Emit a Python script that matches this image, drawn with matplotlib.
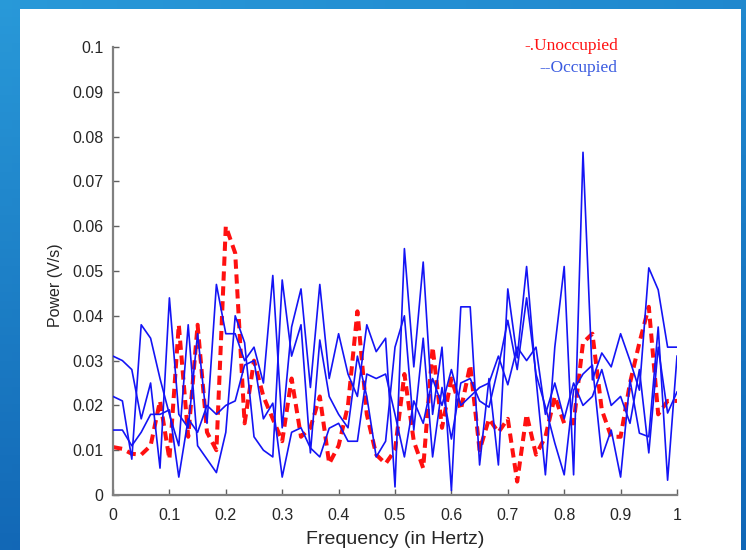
import numpy as np
import matplotlib
matplotlib.use("Agg")
import matplotlib.pyplot as plt
from matplotlib.patches import Rectangle

# ---------------- data ----------------
n_points = 61
freq = np.linspace(0.0, 1.0, n_points)

unoccupied = [0.0107, 0.0103, 0.0092, 0.0090, 0.011, 0.021, 0.008, 0.038, 0.013, 0.038,
              0.014, 0.010, 0.060, 0.054, 0.016, 0.030, 0.022, 0.017, 0.012, 0.026,
              0.013, 0.015, 0.022, 0.007, 0.011, 0.020, 0.041, 0.018, 0.009, 0.007,
              0.010, 0.027, 0.012, 0.006, 0.033, 0.015, 0.026, 0.019, 0.029, 0.010,
              0.017, 0.014, 0.017, 0.003, 0.018, 0.009, 0.013, 0.022, 0.016, 0.016,
              0.034, 0.036, 0.019, 0.013, 0.013, 0.025, 0.034, 0.042, 0.018, 0.021, 0.021]

occupied_1 = [0.031, 0.030, 0.028, 0.017, 0.025, 0.006, 0.044, 0.018, 0.015, 0.036,
              0.016, 0.047, 0.036, 0.036, 0.030, 0.033, 0.025, 0.049, 0.015, 0.0375,
              0.046, 0.024, 0.047, 0.026, 0.036, 0.027, 0.022, 0.038, 0.032, 0.035,
              0.0018, 0.055, 0.0286, 0.052, 0.018, 0.033, 0.001, 0.042, 0.042, 0.0067,
              0.026, 0.0067, 0.046, 0.0306, 0.051, 0.026, 0.0045, 0.033, 0.051, 0.0045,
              0.0765, 0.0257, 0.0317, 0.0286, 0.036, 0.030, 0.0234, 0.0507, 0.0458, 0.033, 0.033]

occupied_2 = [0.022, 0.021, 0.008, 0.038, 0.035, 0.026, 0.018, 0.011, 0.038, 0.011,
              0.008, 0.005, 0.014, 0.040, 0.034, 0.013, 0.010, 0.0085, 0.048, 0.031,
              0.038, 0.0094, 0.0346, 0.022, 0.018, 0.015, 0.031, 0.022, 0.0085, 0.012,
              0.033, 0.040, 0.0145, 0.035, 0.0085, 0.024, 0.0125, 0.025, 0.026, 0.021,
              0.0196, 0.0286, 0.039, 0.028, 0.044, 0.027, 0.0197, 0.0116, 0.0045, 0.0234,
              0.027, 0.029, 0.0085, 0.0145, 0.004, 0.0257, 0.0138, 0.013, 0.0375, 0.0033, 0.031]

occupied_3 = [0.0145, 0.0145, 0.011, 0.014, 0.018, 0.018, 0.019, 0.004, 0.017, 0.014,
              0.020, 0.018, 0.020, 0.021, 0.029, 0.030, 0.017, 0.0205, 0.004, 0.014,
              0.015, 0.0105, 0.0085, 0.0149, 0.016, 0.012, 0.012, 0.027, 0.026, 0.027,
              0.018, 0.0085, 0.021, 0.016, 0.026, 0.020, 0.028, 0.020, 0.022, 0.024,
              0.025, 0.031, 0.0246, 0.033, 0.030, 0.033, 0.018, 0.025, 0.017, 0.025,
              0.020, 0.022, 0.028, 0.020, 0.022, 0.016, 0.028, 0.0094, 0.033, 0.0183, 0.023]

occupied = [occupied_1, occupied_2, occupied_3]

x_ticks = [0, 0.1, 0.2, 0.3, 0.4, 0.5, 0.6, 0.7, 0.8, 0.9, 1]
x_tick_labels = ["0", "0.1", "0.2", "0.3", "0.4", "0.5", "0.6", "0.7", "0.8", "0.9", "1"]
y_ticks = [0, 0.01, 0.02, 0.03, 0.04, 0.05, 0.06, 0.07, 0.08, 0.09, 0.1]
y_tick_labels = ["0", "0.01", "0.02", "0.03", "0.04", "0.05", "0.06", "0.07", "0.08", "0.09", "0.1"]

# ---------------- figure ----------------
W, H = 746, 550
fig = plt.figure(figsize=(W / 100, H / 100), dpi=100)
fig.patch.set_facecolor("#1B86CA")

# blue desktop-like backdrop
bg = fig.add_axes([0, 0, 1, 1], zorder=-5)
gy = np.linspace(0, 1, 64)[:, None]
gx = np.linspace(0, 1, 64)[None, :]
c_top = np.array([0.16, 0.60, 0.85])
c_bot = np.array([0.05, 0.36, 0.68])
c_right = np.array([0.10, 0.50, 0.80])
t = (gy * 0.8 + gx * 0.2)
img = c_top[None, None, :] * (1 - t[..., None]) + c_bot[None, None, :] * t[..., None]
img = img * (1 - 0.3 * gx[..., None]) + c_right[None, None, :] * 0.3 * gx[..., None]
bg.imshow(img, aspect="auto", extent=[0, 1, 0, 1], origin="upper")
bg.set_axis_off()

fig.patches.append(Rectangle((20 / W, 0), (741 - 20) / W, (H - 9) / H,
                             transform=fig.transFigure, facecolor="white",
                             edgecolor="none", zorder=-4))

ax = fig.add_axes([113 / W, (H - 495) / H, (677 - 113) / W, (495 - 47) / H])
ax.set_facecolor("white")

sans = ["Liberation Sans", "DejaVu Sans"]

ax.plot(freq, unoccupied, color="#FF1010", lw=2.9, linestyle=(0, (2.3, 1.4)),
        solid_capstyle="butt", dash_capstyle="butt", zorder=2)
for series in occupied:
    ax.plot(freq, series, color="#1414F5", lw=1.2, zorder=3)

ax.set_xlim(0, 1)
ax.set_ylim(0, 0.1)
ax.set_xticks(x_ticks)
ax.set_xticklabels(x_tick_labels)
ax.set_yticks(y_ticks)
ax.set_yticklabels(y_tick_labels)

for side in ["top", "right"]:
    ax.spines[side].set_visible(False)
for side in ["left", "bottom"]:
    ax.spines[side].set_color("#808080")
    ax.spines[side].set_linewidth(1.6)

ax.tick_params(direction="in", length=4.5, width=1.0, color="#606060",
               labelcolor="#262626")
ax.tick_params(axis="x", pad=9)
ax.tick_params(axis="y", pad=7)
for lab in ax.get_xticklabels() + ax.get_yticklabels():
    lab.set_family(sans)
    lab.set_fontsize(11.5)

ax.set_xlabel("Frequency (in Hertz)", family=sans, fontsize=14, color="#262626")
ax.set_ylabel("Power (V/s)", family=sans, fontsize=11.5, color="#262626")
ax.xaxis.set_label_coords(0.5, -0.08)
ax.yaxis.set_label_coords(-0.089, 0.469)

ax.text(0.895, 1.002, "-.Unoccupied", transform=ax.transAxes, ha="right", va="center",
        family=["Liberation Serif", "DejaVu Serif"], fontsize=12.5, color="#FF1010",
        clip_on=False)
ax.text(0.895, 0.953, "--Occupied", transform=ax.transAxes, ha="right", va="center",
        family=["Liberation Serif", "DejaVu Serif"], fontsize=12.5, color="#3A5BE0",
        clip_on=False)

fig.savefig("out.png", dpi=100, facecolor=fig.get_facecolor())
